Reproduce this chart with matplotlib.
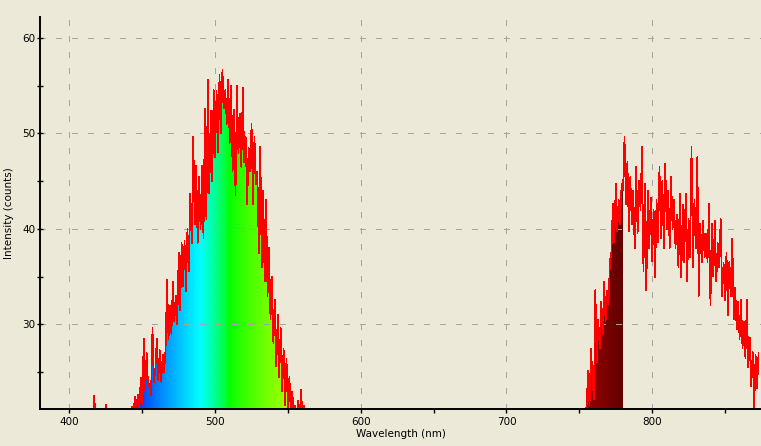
import numpy as np
import matplotlib
matplotlib.use("Agg")
import matplotlib.pyplot as plt
from matplotlib.ticker import MultipleLocator

plt.rcParams['font.family'] = ['DejaVu Sans']
plt.rcParams['lines.scale_dashes'] = False

# spectrum readings, one value per nm
start_vis = 410
counts_vis = [
    20, 20, 20, 20, 20, 20, 20, 22.5, 20, 20,
    20, 20, 20, 20, 20, 21.6, 20, 20, 20, 20,
    20, 20, 20, 20, 20, 20, 20, 20, 20, 20,
    20, 20, 20.5, 21.4, 20.8, 22.4, 21.3, 22.6, 21.2, 24.4,
    21.6, 28.5, 23.0, 27.0, 23.5, 23.8, 22.6, 29.6, 24.0, 25.4,
    28.5, 24.2, 27.3, 24.0, 26.8, 25.0, 27.5, 34.7, 28.5, 31.9,
    29.0, 34.5, 30.3, 33.0, 30.0, 37.5, 31.5, 38.5, 34.0, 38.7,
    33.5, 40.0, 35.6, 43.7, 38.5, 49.6, 40.5, 46.6, 38.5, 45.4,
    40.0, 46.6, 39.0, 52.6, 41.0, 55.6, 43.7, 52.4, 45.0, 54.5,
    47.5, 54.4, 48.0, 56.1, 50.0, 56.6, 52.6, 54.5, 51.0, 55.6,
    49.0, 55.0, 46.0, 52.5, 43.5, 55.0, 47.9, 52.0, 46.5, 54.8,
    47.0, 49.6, 42.6, 48.5, 46.0, 51.0, 42.6, 49.6, 44.7, 46.0,
    37.5, 48.6, 36.0, 44.0, 34.5, 43.0, 33.0, 38.0, 30.5, 35.0,
    28.0, 32.6, 25.6, 31.0, 24.5, 29.6, 23.0, 27.5, 21.5, 26.4,
    20.5, 24.5, 20.5, 23.0, 20.0, 21.5, 20.0, 22.0, 20.0, 23.2,
    20.0, 21.5, 20.0, 20, 20,
]

start_ir = 752
counts_ir = [
    20, 20, 20.5, 21.5, 25.1, 21.5, 27.5, 24.5, 22.2, 33.6,
    26.0, 30.5, 27.5, 32.4, 29.0, 34.5, 30.3, 33.5, 32.0, 36.6,
    37.5, 42.6, 38.6, 44.7, 39.8, 43.0, 40.5, 44.7, 44.0, 49.6,
    42.6, 47.0, 39.8, 45.4, 40.5, 44.0, 38.0, 46.5, 39.5, 45.0,
    42.0, 48.6, 35.6, 44.7, 33.6, 44.0, 38.0, 43.3, 36.6, 42.0,
    34.9, 43.0, 38.6, 46.5, 39.0, 45.0, 38.0, 46.8, 40.0, 44.0,
    38.0, 45.4, 40.0, 43.0, 38.0, 41.5, 36.0, 43.7, 34.9, 42.5,
    36.5, 43.7, 34.5, 41.0, 37.0, 48.6, 36.0, 43.0, 38.0, 47.5,
    33.0, 40.5, 36.5, 40.8, 37.0, 39.5, 36.5, 42.6, 32.0, 40.5,
    35.0, 40.8, 34.5, 38.5, 36.0, 41.0, 33.0, 36.5, 32.5, 37.5,
    31.0, 36.6, 33.0, 39.0, 30.5, 33.8, 29.5, 32.4, 28.5, 32.6,
    27.5, 30.3, 26.5, 32.6, 25.5, 28.6, 23.5, 27.1, 21.2, 26.8,
    23.3, 27.0,
]

wl_vis = np.arange(start_vis, start_vis + len(counts_vis))
wl_ir = np.arange(start_ir, start_ir + len(counts_ir))

BG = '#ECE9D8'
XMIN, XMAX = 380, 874.7
YMIN, YMAX = 21.15, 62.2


def wavelength_rgba(w, gamma=0.8):
    # Dan Bruton style approximation
    if w < 380 or w > 780:
        return (0, 0, 0, 0)
    if w < 440:
        r, g, b = -(w - 440) / 60, 0.0, 1.0
    elif w < 490:
        r, g, b = 0.0, (w - 440) / 50, 1.0
    elif w < 510:
        r, g, b = 0.0, 1.0, -(w - 510) / 20
    elif w < 580:
        r, g, b = (w - 510) / 70, 1.0, 0.0
    elif w < 645:
        r, g, b = 1.0, -(w - 645) / 65, 0.0
    else:
        r, g, b = 1.0, 0.0, 0.0
    if w < 420:
        f = 0.3 + 0.7 * (w - 380) / 40
    elif w > 700:
        f = 0.3 + 0.7 * (780 - w) / 80
    else:
        f = 1.0
    return tuple((c * f) ** gamma for c in (r, g, b)) + (1.0,)


fig = plt.figure(figsize=(7.61, 4.46), dpi=100, facecolor=BG)
ax = fig.add_axes([40.3 / 761, 37 / 446, 720.7 / 761, 392.3 / 446], facecolor=BG)

grid_wl = np.linspace(XMIN, XMAX, 1500)
rgba = np.array([wavelength_rgba(w) for w in grid_wl])[None, :, :]

for wl, cnt in [(wl_vis, counts_vis), (wl_ir, counts_ir)]:
    poly = ax.fill_between(wl, 0, cnt, facecolor='none', edgecolor='none')
    im = ax.imshow(rgba, extent=[XMIN, XMAX, 0, 70], aspect='auto',
                   origin='lower', interpolation='nearest', zorder=1)
    im.set_clip_path(poly.get_paths()[0], transform=ax.transData)
    ax.plot(wl, cnt, color='#FF0000', lw=0.5, antialiased=False, zorder=2)

ax.set_xlim(XMIN, XMAX)
ax.set_ylim(YMIN, YMAX)

ax.xaxis.set_major_locator(MultipleLocator(100))
ax.xaxis.set_minor_locator(MultipleLocator(50))
ax.yaxis.set_major_locator(MultipleLocator(10))
ax.yaxis.set_minor_locator(MultipleLocator(5))

ax.set_axisbelow('line')
ax.grid(True, which='major', color='#A4A4A4', linestyle=(0, (3.6, 7.2)),
        linewidth=0.75, antialiased=False)

for s in ['top', 'right']:
    ax.spines[s].set_visible(False)
ax.spines['left'].set_linewidth(1.4)
ax.spines['bottom'].set_linewidth(1.4)

ax.tick_params(axis='y', which='both', direction='inout', length=5, width=1,
               labelsize=7.5, pad=1)
ax.tick_params(axis='x', which='both', direction='out', length=3, width=1,
               labelsize=7.5, pad=3)

ax.set_xlabel('Wavelength (nm)', fontsize=7.5, labelpad=1)
ax.set_ylabel('Intensity (counts)', fontsize=7.5, labelpad=6)

fig.savefig('out.png', dpi=100, facecolor=BG)
